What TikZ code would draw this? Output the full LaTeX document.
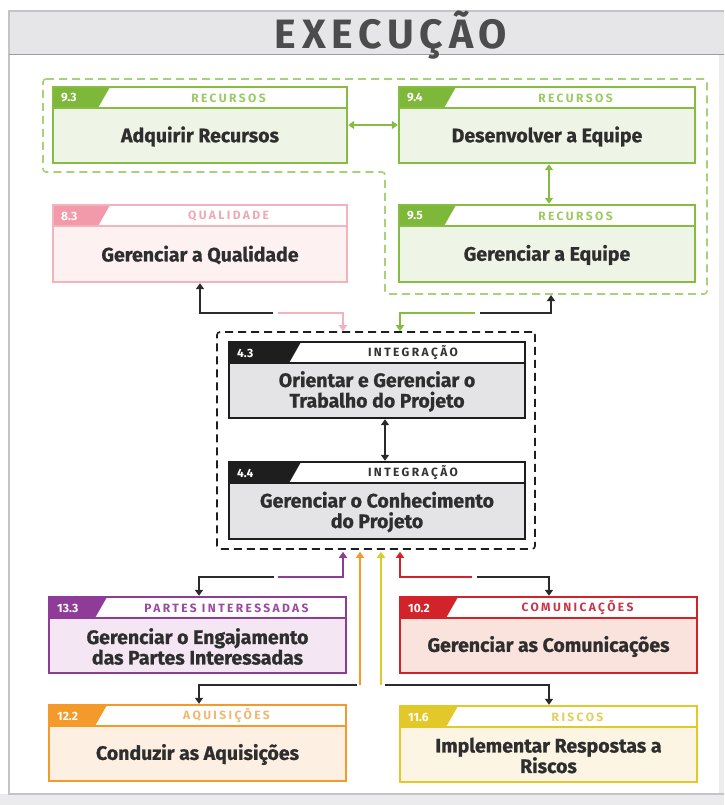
\documentclass[tikz,border=0pt]{standalone}
\usepackage{fontspec}
\setmainfont{Fira Sans}
\newfontfamily\bodyfont{Fira Sans}[BoldFeatures={FakeBold=0.8}]
\newfontfamily\spacedfont{Fira Sans}[LetterSpace=20]
\newfontfamily\titlefont{Fira Sans}[LetterSpace=14]
\usetikzlibrary{arrows.meta}
\definecolor{maintext}{HTML}{2E2E2E}
\definecolor{band}{HTML}{E6E6E8}
\definecolor{frameline}{HTML}{C4C4C6}
\definecolor{grn}{HTML}{86BC42}
\definecolor{grnhead}{HTML}{9CCB63}
\definecolor{grnfill}{HTML}{EEF4E6}
\definecolor{grndash}{HTML}{A9D07A}
\definecolor{pnk}{HTML}{F2B3BD}
\definecolor{pnkbadge}{HTML}{F29AAA}
\definecolor{pnkhead}{HTML}{F0A8B4}
\definecolor{pnkfill}{HTML}{FDF1F2}
\definecolor{blk}{HTML}{1E1E1E}
\definecolor{blkbadge}{HTML}{1E1E1E}
\definecolor{blkhead}{HTML}{333333}
\definecolor{blkfill}{HTML}{E4E4E6}
\definecolor{grnbadge}{HTML}{7DB83A}
\definecolor{prp}{HTML}{8E3C97}
\definecolor{prpbadge}{HTML}{8E3C97}
\definecolor{prphead}{HTML}{9A4AA0}
\definecolor{prpfill}{HTML}{F4E6F2}
\definecolor{red}{HTML}{D2232A}
\definecolor{redbadge}{HTML}{D2232A}
\definecolor{redhead}{HTML}{C8384A}
\definecolor{redfill}{HTML}{FAE3DD}
\definecolor{org}{HTML}{F39A2B}
\definecolor{orgbadge}{HTML}{F39A2B}
\definecolor{orghead}{HTML}{F2B872}
\definecolor{orgfill}{HTML}{FDF0E2}
\definecolor{ylw}{HTML}{E3C829}
\definecolor{ylwbadge}{HTML}{E3C829}
\definecolor{ylwhead}{HTML}{E3CF5A}
\definecolor{ylwfill}{HTML}{FDF5E3}
\definecolor{conblk}{HTML}{2A2A2A}
\tikzset{
  bodytext/.style={font=\bodyfont\fontsize{19.5}{20.5}\selectfont\bfseries, text=maintext, align=center, inner sep=0},
  headtext/.style={font=\spacedfont\fontsize{12}{13}\selectfont\bfseries, inner sep=0},
  badgetext/.style={font=\fontsize{12}{13}\selectfont\bfseries, text=white, inner sep=0, anchor=west},
  boxframe/.style={inner sep=0, line width=2.4pt},
  conn/.style={line width=1.8pt, -{Triangle[width=8pt,length=6pt]}},
  dbl/.style={line width=1.8pt, {Triangle[width=8pt,length=6pt]}-{Triangle[width=8pt,length=6pt]}},
  groupdash/.style={line width=1.6pt, dash pattern=on 8pt off 5pt, rounded corners=3pt},
}
\def\badgew{57}
% #1 name #2 x1 #3 y1 #4 x2 #5 y2 #6 colour #7 number #8 label #9 body
\newcommand\pbox[9]{%
  \fill[#6fill] (#2,#3) rectangle (#4,#5);
  \fill[white] (#2,#3) rectangle (#4,#3+21);
  \fill[#6badge] (#2,#3) -- (#2+\badgew,#3) -- (#2+\badgew-12,#3+21) -- (#2,#3+21) -- cycle;
  \draw[#6, line width=1.2pt] (#2,#3+21) -- (#4,#3+21);
  \node[badgetext] at (#2+8,#3+11) {#7};
  \node[headtext, text=#6head] at ({(#2+\badgew+#4)/2},#3+11) {#8};
  \node[boxframe, draw=#6, minimum width={(#4-#2)*1pt}, minimum height={(#5-#3)*1pt}] (#1) at ({(#2+#4)/2},{(#3+#5)/2}) {};
  \node[bodytext] (#1-t) at ({(#2+#4)/2},{(#3+21+#5)/2+1}) {#9};
}
\begin{document}
\begin{tikzpicture}[x=1pt,y=-1pt]
\useasboundingbox (0,0) rectangle (724,805);
\fill[white] (0,0) rectangle (724,805);
% frame
\fill[band] (9,11) rectangle (724,55);
\fill[band!80!white] (0,794) rectangle (724,805);
\fill[band!70!white] (719,55) rectangle (724,794);
\draw[frameline, line width=1.2pt] (724,11) -- (9,11) -- (9,794) -- (724,794);
\draw[frameline!80!black, line width=1pt] (9,55) -- (724,55);
\node[font=\titlefont\fontsize{41}{44}\selectfont\bfseries, text=black!70, inner sep=0] (title) at (391,35) {EXECUÇÃO};

% green group
\draw[grndash, groupdash] (43,79) -- (707,79) -- (707,294) -- (385,294) -- (385,172) -- (43,172) -- cycle;
\coordinate (grpbottom) at (551,295);

\pbox{r93}{53}{87}{347}{163}{grn}{9.3}{RECURSOS}{Adquirir Recursos}
\pbox{r94}{399}{87}{695}{163}{grn}{9.4}{RECURSOS}{Desenvolver a Equipe}
\pbox{r95}{399}{205}{695}{282}{grn}{9.5}{RECURSOS}{Gerenciar a Equipe}
\pbox{q83}{53}{205}{347}{282}{pnk}{8.3}{QUALIDADE}{Gerenciar a Qualidade}

% integration group
\node[draw=blk, groupdash, minimum width=318pt, minimum height=217pt, inner sep=0] (intg) at (376,440.5) {};
\def\badgew{72}
\pbox{i43}{229}{342}{525}{418}{blk}{4.3}{INTEGRAÇÃO}{Orientar e Gerenciar o\\Trabalho do Projeto}
\pbox{i44}{229}{462}{525}{539}{blk}{4.4}{INTEGRAÇÃO}{Gerenciar o Conhecimento\\do Projeto}
\def\badgew{58}
\pbox{p133}{49}{597}{346}{673}{prp}{13.3}{PARTES INTERESSADAS}{Gerenciar o Engajamento\\das Partes Interessadas}
\pbox{c102}{400}{597}{697}{673}{red}{10.2}{COMUNICAÇÕES}{Gerenciar as Comunicações}
\pbox{a122}{49}{705}{346}{781}{org}{12.2}{AQUISIÇÕES}{Conduzir as Aquisições}
\pbox{k116}{400}{706}{697}{782}{ylw}{11.6}{RISCOS}{Implementar Respostas a\\Riscos}

% double arrows
\draw[dbl, grn] (r93.east |- 0,125) -- (r94.west |- 0,125);
\draw[dbl, grn] (r94.south -| 549,0) -- (r95.north -| 549,0);
\draw[dbl, conblk] (i43.south -| 385,0) -- (i44.north -| 385,0);

% upper connectors
\coordinate (jl) at (273,313);
\coordinate (jr) at (478,313);
\draw[conn, conblk] (jl) -| (q83.south);
\draw[conn, pnk] ([xshift=5pt]jl) -| ([xshift=-33pt]intg.north);
\draw[conn, grn] ([xshift=-3pt]jr) -| ([xshift=24pt]intg.north);
\draw[conn, conblk] ([xshift=2pt]jr) -| (grpbottom);

% lower connectors
\coordinate (jpl) at (274,577);
\coordinate (jrr) at (474,577);
\coordinate (jol) at (357,685);
\coordinate (jyr) at (385,685);
\draw[conn, prp] ([xshift=4pt]jpl) -| ([xshift=-33pt,yshift=-2pt]intg.south);
\draw[conn, conblk] (jpl) -| (p133.north -| 199,0);
\draw[conn, red] ([xshift=-2pt]jrr) -| ([xshift=24pt,yshift=-2pt]intg.south);
\draw[conn, conblk] ([xshift=3pt]jrr) -| (c102.north -| 549,0);
\draw[conn, org] (360,685) -- ([xshift=-16pt,yshift=-2pt]intg.south);
\draw[conn, conblk] (jol) -| (a122.north -| 199,0);
\draw[conn, ylw] (381,685) -- ([xshift=5pt,yshift=-2pt]intg.south);
\draw[conn, conblk] (jyr) -| (k116.north -| 549,0);
\end{tikzpicture}
\end{document}
